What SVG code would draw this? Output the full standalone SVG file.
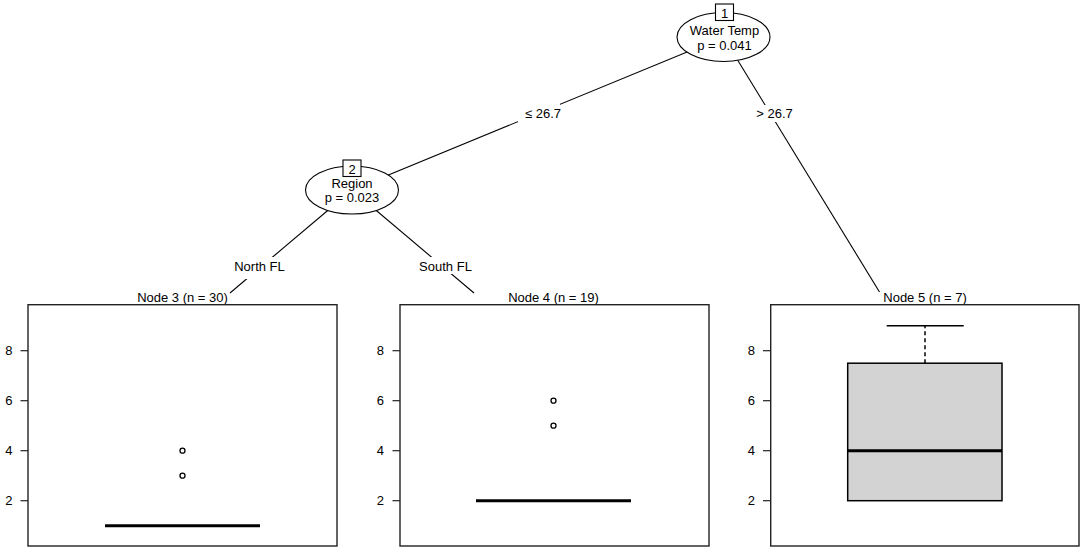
<svg xmlns="http://www.w3.org/2000/svg" width="1084" height="552" viewBox="0 0 1084 552">
<style>
text{font-family:"Liberation Sans",Arial,sans-serif;font-size:13px;fill:#000}
.c{text-anchor:middle}
.r{text-anchor:end}
.edge{stroke:#000;stroke-width:1.1;fill:none}
.lblbg{fill:#fff;stroke:none}
.ell{fill:#fff;stroke:#000;stroke-width:1.1}
.idbox{fill:#fff;stroke:#000;stroke-width:1.1}
.frame{fill:#fff;stroke:#222;stroke-width:1.4}
.tick{stroke:#222;stroke-width:1.2}
.med{stroke:#000;stroke-width:3}
.out{fill:none;stroke:#000;stroke-width:1.3}
.bx{fill:#d3d3d3;stroke:#000;stroke-width:1.5}
.wh{stroke:#000;stroke-width:1.5}
</style>
<g id="connectors">
<line class="edge" x1="723.5" y1="37" x2="352" y2="190"/>
<line class="edge" x1="723.5" y1="37" x2="879.5" y2="292"/>
<line class="edge" x1="352" y1="190" x2="230" y2="293"/>
<line class="edge" x1="352" y1="190" x2="474" y2="293"/>
<rect class="lblbg" x="518" y="103" width="42" height="19"/>
<text class="c" x="543" y="118">≤ 26.7</text>
<rect class="lblbg" x="755" y="105" width="39" height="17"/>
<text class="c" x="774.5" y="118">&gt; 26.7</text>
<rect class="lblbg" x="232" y="257" width="55" height="22"/>
<text class="c" x="259.5" y="271">North FL</text>
<rect class="lblbg" x="416" y="257" width="59" height="17"/>
<text class="c" x="445.5" y="271">South FL</text>
</g>
<g id="node1">
<ellipse class="ell" cx="723.5" cy="37" rx="46.5" ry="24.5"/>
<rect class="idbox" x="715.5" y="4" width="18" height="16.5"/>
<text class="c" x="724.5" y="17.5">1</text>
<text class="c" x="724.5" y="35">Water Temp</text>
<text class="c" x="724.5" y="49.5">p = 0.041</text>
</g>
<g id="node2">
<ellipse class="ell" cx="352" cy="190" rx="46.5" ry="24"/>
<rect class="idbox" x="343" y="160" width="18" height="16.5"/>
<text class="c" x="352" y="173.5">2</text>
<text class="c" x="352" y="187.5">Region</text>
<text class="c" x="352" y="202">p = 0.023</text>
</g>
<g id="node3">
<text class="c" x="182.5" y="302">Node 3 (n = 30)</text>
<rect class="frame" x="28" y="304.7" width="309" height="241.3"/>
<line class="tick" x1="20.5" y1="350.7" x2="28" y2="350.7"/>
<line class="tick" x1="20.5" y1="400.7" x2="28" y2="400.7"/>
<line class="tick" x1="20.5" y1="450.7" x2="28" y2="450.7"/>
<line class="tick" x1="20.5" y1="500.7" x2="28" y2="500.7"/>
<text class="r" x="12.5" y="355.2">8</text>
<text class="r" x="12.5" y="405.2">6</text>
<text class="r" x="12.5" y="455.2">4</text>
<text class="r" x="12.5" y="505.2">2</text>
<line class="med" x1="105" y1="525.7" x2="260" y2="525.7"/>
<circle class="out" cx="182.5" cy="450.7" r="2.5"/>
<circle class="out" cx="182.5" cy="475.7" r="2.5"/>
</g>
<g id="node4">
<text class="c" x="553.5" y="302">Node 4 (n = 19)</text>
<rect class="frame" x="400" y="304.7" width="309" height="241.3"/>
<line class="tick" x1="392.5" y1="350.7" x2="400" y2="350.7"/>
<line class="tick" x1="392.5" y1="400.7" x2="400" y2="400.7"/>
<line class="tick" x1="392.5" y1="450.7" x2="400" y2="450.7"/>
<line class="tick" x1="392.5" y1="500.7" x2="400" y2="500.7"/>
<text class="r" x="384" y="355.2">8</text>
<text class="r" x="384" y="405.2">6</text>
<text class="r" x="384" y="455.2">4</text>
<text class="r" x="384" y="505.2">2</text>
<line class="med" x1="476" y1="500.7" x2="631" y2="500.7"/>
<circle class="out" cx="553.5" cy="400.7" r="2.5"/>
<circle class="out" cx="553.5" cy="425.7" r="2.5"/>
</g>
<g id="node5">
<text class="c" x="925" y="302">Node 5 (n = 7)</text>
<rect class="frame" x="770.7" y="304.7" width="308.3" height="241.3"/>
<line class="tick" x1="763" y1="350.7" x2="770.7" y2="350.7"/>
<line class="tick" x1="763" y1="400.7" x2="770.7" y2="400.7"/>
<line class="tick" x1="763" y1="450.7" x2="770.7" y2="450.7"/>
<line class="tick" x1="763" y1="500.7" x2="770.7" y2="500.7"/>
<text class="r" x="755" y="355.2">8</text>
<text class="r" x="755" y="405.2">6</text>
<text class="r" x="755" y="455.2">4</text>
<text class="r" x="755" y="505.2">2</text>
<line class="wh" x1="925" y1="363.2" x2="925" y2="325.7" stroke-dasharray="4,3"/>
<line class="wh" x1="886.7" y1="325.7" x2="963.7" y2="325.7"/>
<rect class="bx" x="847.7" y="363.2" width="154.3" height="137.5"/>
<line class="med" x1="847.7" y1="450.7" x2="1002" y2="450.7"/>
</g>
</svg>
